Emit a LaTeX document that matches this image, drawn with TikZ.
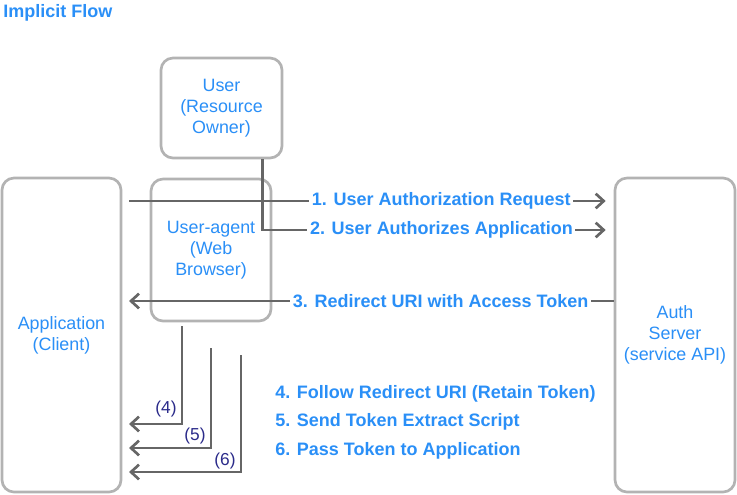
\documentclass[tikz,border=0pt]{standalone}
\usepackage{fontspec}
\setmainfont{Liberation Sans}
\usetikzlibrary{arrows.meta}
\definecolor{txtblue}{HTML}{2A8FF7}
\definecolor{boxgray}{HTML}{B3B3B3}
\definecolor{linegray}{HTML}{666666}
\definecolor{navy}{HTML}{2B2B8A}
\begin{document}
\begin{tikzpicture}[x=0.75pt,y=-0.75pt,
  actor/.style={draw=boxgray,line width=2pt,rounded corners=9pt,fill=white,
    text=txtblue,align=center,font=\fontsize{13.4}{15.75}\selectfont,inner sep=0pt},
  flow/.style={draw=linegray,line width=2.2pt,-{Straight Barb[length=6pt,width=11pt,line width=2pt]}},
  lbl/.style={fill=white,text=txtblue,font=\bfseries\fontsize{13.5}{15}\selectfont,inner sep=2pt},
  num/.style={text=navy,font=\fontsize{13}{15}\selectfont,inner sep=0pt},
  note/.style={anchor=west,text=txtblue,font=\bfseries\fontsize{13.5}{15}\selectfont,inner sep=0pt}]
\useasboundingbox (0,0) rectangle (737,494);
\node[note] (title) at (3,13) {Implicit Flow};
\node[actor,minimum width=90.75pt,minimum height=75pt] (user) at (221.5,108) {User\\(Resource\\Owner)};
\node[actor,minimum width=89.25pt,minimum height=235.5pt] (app) at (61.5,335) {Application\\(Client)};
\node[actor,minimum width=90pt,minimum height=106.5pt] (ua) at (211,250) {User-agent\\(Web\\Browser)};
\node[actor,minimum width=90pt,minimum height=235.5pt] (auth) at (675,335) {Auth\\Server\\(service API)};
% 1
\draw[flow] ([xshift=5pt]app.east |- 0,201) -- node[lbl,pos=0.655] (l1) {1. User Authorization Request} ([xshift=-6pt]auth.west |- 0,201);
% 2
\draw[flow] ([xshift=30.4pt]user.south) |- node[lbl,pos=0.761] (l2) {2. User Authorizes Application} ([xshift=-6pt]auth.west |- 0,230);
% 3
\draw[flow] (auth.west |- 0,301) -- node[lbl,pos=0.357] (l3) {3. Redirect URI with Access Token} ([xshift=5pt]app.east |- 0,301);
% 4-6
\draw[flow] ([xshift=-21.75pt,yshift=-3pt]ua.south) |- ([xshift=5pt]app.east |- 0,424);
\coordinate (s5) at (211,348);
\coordinate (s6) at (241,355);
\draw[flow] (s5) |- ([xshift=5pt]app.east |- 0,448);
\draw[flow] (s6) |- ([xshift=5pt]app.east |- 0,472);
\node[num] (n4) at (166,409) {(4)};
\node[num] (n5) at (195,436) {(5)};
\node[num] (n6) at (225,461) {(6)};
\node[note] (t4) at (275,394) {4. Follow Redirect URI (Retain Token)};
\node[note] (t5) at (275,422) {5. Send Token Extract Script};
\node[note] (t6) at (275,451) {6. Pass Token to Application};
\end{tikzpicture}
\end{document}
